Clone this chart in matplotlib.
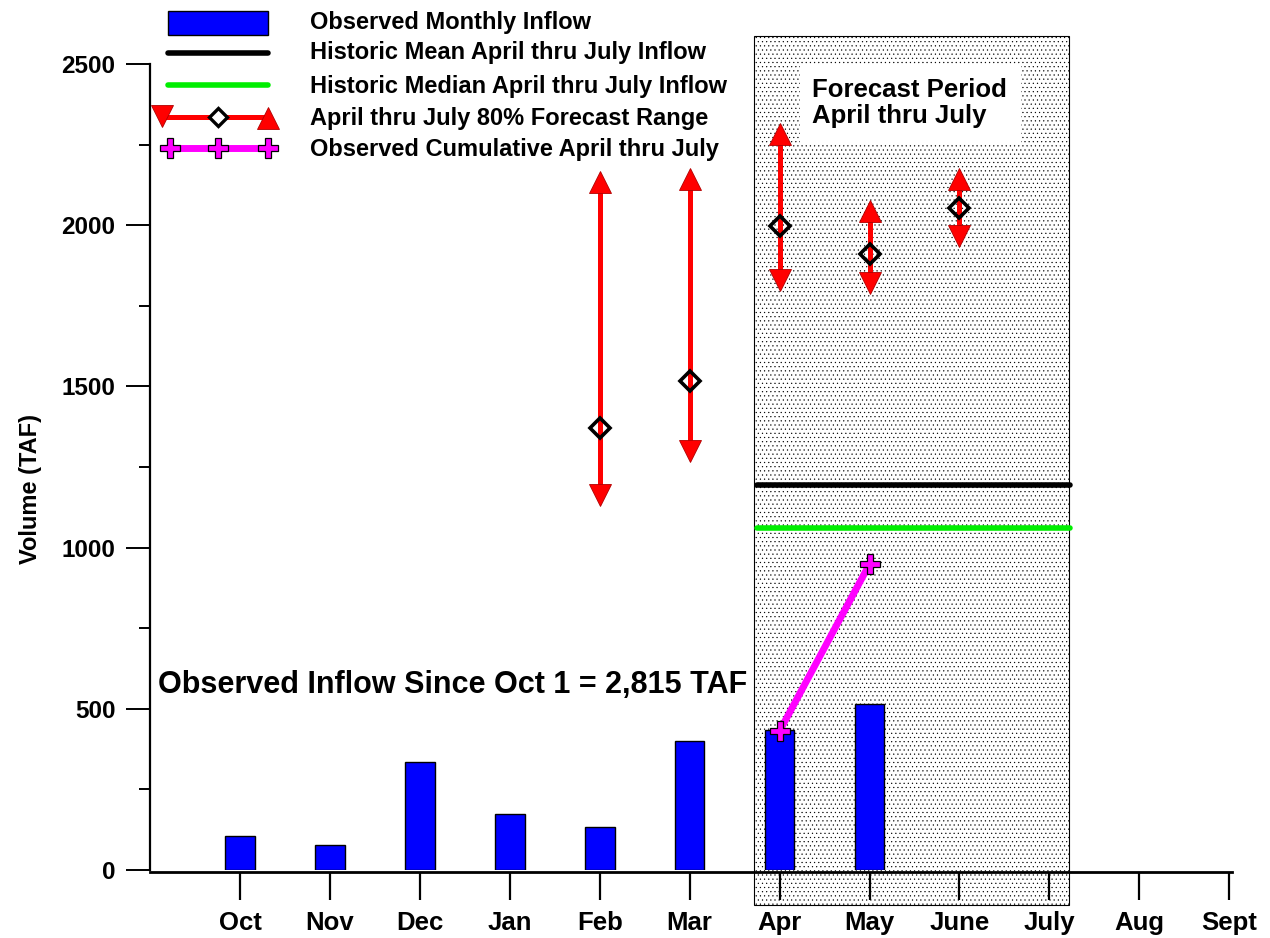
import matplotlib
matplotlib.use('Agg')
import matplotlib.pyplot as plt
from matplotlib.patches import Rectangle
from matplotlib.lines import Line2D
from matplotlib.ticker import MultipleLocator

# datos
months = ['Oct', 'Nov', 'Dec', 'Jan', 'Feb', 'Mar', 'Apr', 'May', 'June', 'July', 'Aug', 'Sept']
inflow_months = ['Oct', 'Nov', 'Dec', 'Jan', 'Feb', 'Mar', 'Apr', 'May']
inflow = [105, 78, 335, 174, 133, 400, 434, 515]

fc_months = ['Feb', 'Mar', 'Apr', 'May', 'June']
fc_low = [1163, 1300, 1830, 1821, 1967]
fc_mid = [1370, 1517, 1997, 1911, 2053]
fc_high = [2135, 2143, 2283, 2044, 2143]

cum_months = ['Apr', 'May']
cum_vals = [431, 949]

hist_mean = 1194
hist_median = 1061
total_text = 'Observed Inflow Since Oct 1 = 2,815 TAF'

BOLD = ['Liberation Sans', 'DejaVu Sans']
NARROW = ['Liberation Sans Narrow', 'Liberation Sans', 'DejaVu Sans']

plt.rcParams['hatch.color'] = '#6a6a6a'
plt.rcParams['hatch.linewidth'] = 0.35

W, H = 1270, 938
fig = plt.figure(figsize=(12.7, 9.38), dpi=100)
ax = fig.add_axes([150 / W, (H - 870) / H, 1082 / W, 806 / H])

pos = {m: i + 1 for i, m in enumerate(months)}
def xs(lst):
    return [pos[m] for m in lst]

# periodo de pronostico
box = Rectangle((6.71, -109), 3.51, 2696, facecolor='white', edgecolor='black',
                hatch='....', lw=0.8, clip_on=False, zorder=0.5)
ax.add_patch(box)
ax.add_patch(Rectangle((7.23, 2255), 2.45, 240, facecolor='white', edgecolor='none', zorder=0.6))
ax.text(7.36, 2378, 'Forecast Period\nApril thru July', fontsize=18.5, fontweight='bold',
        family=BOLD, va='center', ha='left', linespacing=1.1, zorder=0.7)

# barras
ax.bar(xs(inflow_months), inflow, width=0.33, color='#0000ff', edgecolor='black', lw=1, zorder=2)

# medias historicas
ax.plot([6.75, 10.23], [hist_mean] * 2, color='black', lw=4, solid_capstyle='round', zorder=3)
ax.plot([6.75, 10.23], [hist_median] * 2, color='#00ee00', lw=4, solid_capstyle='round', zorder=3)

# rangos de pronostico
for x, lo, mid, hi in zip(xs(fc_months), fc_low, fc_mid, fc_high):
    ax.plot([x, x], [lo, hi], color='red', lw=3.6, zorder=4)
    ax.plot(x, hi, marker='^', ms=16, color='red', mec='#b00000', mew=0.6, zorder=5)
    ax.plot(x, lo, marker='v', ms=16, color='red', mec='#b00000', mew=0.6, zorder=5)
    ax.plot(x, mid, marker='D', ms=10, mfc='none', mec='black', mew=2.6, zorder=5)

# acumulado
ax.plot(xs(cum_months), cum_vals, color='#ff00ff', lw=5, marker='P', ms=15,
        mfc='#ff00ff', mec='black', mew=0.9, zorder=6)

ax.text(0.09, 575, total_text, fontsize=22, fontweight='bold', family=NARROW,
        va='center', ha='left', zorder=7)

ax.set_xlim(0, 12.03)
ax.set_ylim(0, 2500)
ax.set_xticks(range(1, 13))
ax.set_xticklabels(months)
ax.yaxis.set_major_locator(MultipleLocator(500))
ax.yaxis.set_minor_locator(MultipleLocator(250))
for s in ['top', 'right']:
    ax.spines[s].set_visible(False)
ax.spines['left'].set_linewidth(1.6)
ax.spines['bottom'].set_linewidth(2)
ax.spines['bottom'].set_position(('outward', 1.5))
ax.spines['bottom'].set_zorder(8)
ax.tick_params(axis='x', length=20, width=1.6, pad=8, direction='out')
ax.tick_params(axis='y', which='major', length=17, width=1.4, pad=8)
ax.tick_params(axis='y', which='minor', length=8, width=1.4)
for lab in ax.get_xticklabels():
    lab.set_fontfamily(NARROW)
    lab.set_fontweight('bold')
    lab.set_fontsize(18.5)
for lab in ax.get_yticklabels():
    lab.set_fontfamily(BOLD)
    lab.set_fontweight('bold')
    lab.set_fontsize(17.5)
ax.set_ylabel('Volume (TAF)', fontsize=17, fontweight='bold', family=NARROW)
ax.yaxis.set_label_coords(-108 / 1082, 0.473)

# leyenda manual (coordenadas en pixeles de la figura)
def fx(px):
    return px / W
def fy(py):
    return 1 - py / H

fig.add_artist(Rectangle((fx(168), fy(35)), 100 / W, 24 / H, transform=fig.transFigure,
                         facecolor='#0000ff', edgecolor='black', lw=1))
fig.add_artist(Line2D([fx(168), fx(268)], [fy(53)] * 2, transform=fig.transFigure,
                      color='black', lw=4, solid_capstyle='round'))
fig.add_artist(Line2D([fx(168), fx(268)], [fy(85)] * 2, transform=fig.transFigure,
                      color='#00ee00', lw=4, solid_capstyle='round'))
fig.add_artist(Line2D([fx(162), fx(268)], [fy(117)] * 2, transform=fig.transFigure,
                      color='red', lw=3.6))
fig.add_artist(Line2D([fx(162)], [fy(116)], transform=fig.transFigure, marker='v', ms=16,
                      color='red', mec='#b00000', mew=0.6))
fig.add_artist(Line2D([fx(218)], [fy(117)], transform=fig.transFigure, marker='D', ms=9,
                      mfc='white', mec='black', mew=2.4))
fig.add_artist(Line2D([fx(268)], [fy(118)], transform=fig.transFigure, marker='^', ms=16,
                      color='red', mec='#b00000', mew=0.6))
fig.add_artist(Line2D([fx(170), fx(218), fx(268)], [fy(148)] * 3, transform=fig.transFigure,
                      color='#ff00ff', lw=5, marker='P', ms=15, mfc='#ff00ff', mec='black', mew=0.9))

labels = ['Observed Monthly Inflow', 'Historic Mean April thru July Inflow',
          'Historic Median April thru July Inflow', 'April thru July 80% Forecast Range',
          'Observed Cumulative April thru July']
for lab, py in zip(labels, [22, 53, 86, 118, 149]):
    fig.text(fx(310), fy(py), lab, fontsize=17, fontweight='bold', family=BOLD,
             va='center', ha='left')

fig.savefig('out.png', dpi=100)
